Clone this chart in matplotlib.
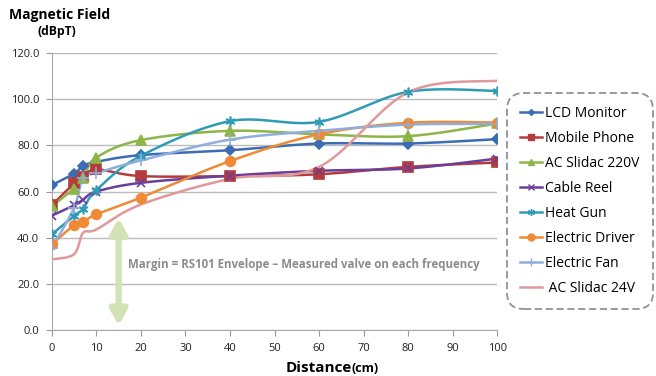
import numpy as np
import matplotlib.pyplot as plt
from matplotlib.lines import Line2D

plt.rcParams['font.family'] = ['Open Sans', 'DejaVu Sans']

# distance (cm) of each measurement
distance = [0, 5, 7, 10, 20, 40, 60, 80, 100]

lcd_monitor = [62.8, 67.8, 71.0, 72.9, 75.8, 77.9, 80.8, 80.8, 82.7]
mobile_phone = [54.1, 63.5, 66.1, 69.6, 66.7, 66.7, 67.5, 70.7, 72.6]
ac_slidac_220 = [53.7, 61.3, 65.7, 74.7, 82.3, 86.3, 84.8, 84.0, 89.5]
cable_reel = [49.6, 54.0, 56.5, 60.0, 63.8, 66.9, 69.0, 70.0, 74.3]
heat_gun = [41.5, 49.5, 52.6, 60.6, 75.5, 90.5, 90.2, 103.2, 103.6]
electric_driver = [37.1, 45.5, 46.9, 50.1, 57.4, 73.2, 84.8, 89.8, 89.9]
electric_fan = [35.4, 53.0, 66.0, 68.0, 73.5, 82.5, 86.3, 89.0, 89.3]
ac_slidac_24 = [30.6, 32.9, 42.1, 43.6, 54.4, 65.5, 70.7, 103.0, 108.0]

labels = ['LCD Monitor', 'Mobile Phone', 'AC Slidac 220V', 'Cable Reel',
          'Heat Gun', 'Electric Driver', 'Electric Fan', ' AC Slidac 24V']
series = [lcd_monitor, mobile_phone, ac_slidac_220, cable_reel,
          heat_gun, electric_driver, electric_fan, ac_slidac_24]
colors = ['#3C6DB4', '#B43C3C', '#8DB548', '#6A3E9A',
          '#2E9CB6', '#F08A35', '#8FAEDC', '#E0999B']
markers = ['D', 's', '^', 'x', (6, 2, 0), 'o', '+', None]
msizes = [5, 7, 7, 6, 7, 7, 8, 0]

xticks = np.arange(0, 101, 10)
yticks = np.arange(0, 121, 20)


def smooth(x, y, sx=4.45, sy=2.31, n=40):
    # catmull-rom curve through the points, computed in screen-like units
    p = np.column_stack([np.asarray(x, float) * sx, np.asarray(y, float) * sy])
    p = np.vstack([p[0], p, p[-1]])
    out = []
    for i in range(1, len(p) - 2):
        p0, p1, p2, p3 = p[i - 1], p[i], p[i + 1], p[i + 2]
        c1 = p1 + (p2 - p0) / 6
        c2 = p2 - (p3 - p1) / 6
        t = np.linspace(0, 1, n)[:, None]
        b = ((1 - t) ** 3) * p1 + 3 * ((1 - t) ** 2) * t * c1 \
            + 3 * (1 - t) * t ** 2 * c2 + t ** 3 * p2
        out.append(b if i == 1 else b[1:])
    out = np.vstack(out)
    return out[:, 0] / sx, out[:, 1] / sy


fig = plt.figure(figsize=(6.56, 3.76), dpi=100)
ax = fig.add_axes([0.079, 0.122, 0.679, 0.737])

for vals, c, m, ms in zip(series, colors, markers, msizes):
    sx_, sy_ = smooth(distance, vals)
    ax.plot(sx_, sy_, color=c, lw=1.8, zorder=3)
    if m is not None:
        ax.plot(distance, vals, ls='none', marker=m, ms=ms, color=c,
                mec=c, mew=1.2, zorder=4)

ax.set_xlim(0, 100)
ax.set_ylim(0, 120)
ax.set_xticks(xticks)
ax.set_yticks(yticks)
ax.set_yticklabels([f'{v:.1f}' for v in yticks])
ax.tick_params(axis='both', labelsize=8, colors='#222222', length=4,
               color='#999999')
ax.tick_params(axis='x', pad=5)
ax.tick_params(axis='y', pad=5)
ax.grid(axis='y', color='#BBBBBB', lw=1)
ax.set_axisbelow(True)
for s in ['top', 'right']:
    ax.spines[s].set_visible(False)
for s in ['left', 'bottom']:
    ax.spines[s].set_color('#AAAAAA')

# margin arrow and note
ax.annotate('', xy=(15, 2.0), xytext=(15, 48.5),
            arrowprops=dict(arrowstyle='<|-|>,head_length=0.9,head_width=0.5',
                            color='#D3E2B4', lw=4.5, shrinkA=0, shrinkB=0),
            zorder=2)
ax.text(17.0, 28.5, 'Margin = RS101 Envelope \u2013 Measured valve on each frequency',
        fontsize=8.3, fontweight='bold', color='#8C8C8C', va='center', ha='left')

fig.text(9 / 656, 1 - 15 / 376, 'Magnetic Field', fontsize=10,
         fontweight='bold', va='center', ha='left')
fig.text(37 / 656, 1 - 31 / 376, '(dBpT)', fontsize=8.7,
         fontweight='bold', va='center', ha='left')
fig.text(352 / 656, 1 - 372 / 376, 'Distance', fontsize=11,
         fontweight='bold', va='baseline', ha='right')
fig.text(352 / 656, 1 - 372 / 376, '(cm)', fontsize=9,
         fontweight='bold', va='baseline', ha='left')

handles = []
for c, m, ms in zip(colors, markers, msizes):
    handles.append(Line2D([], [], color=c, lw=1.8, marker=m,
                          ms=max(ms - 2, 0), mec=c))
leg = fig.legend(handles, labels, loc='upper left',
                 bbox_to_anchor=(507 / 656, 1 - 93 / 376), borderaxespad=0,
                 fontsize=10, labelspacing=0.72, handlelength=1.6,
                 handletextpad=0.2, borderpad=0.95, frameon=True)
frame = leg.get_frame()
frame.set_boxstyle('round,pad=0.0,rounding_size=1.2')
frame.set_linestyle((0, (4, 2)))
frame.set_edgecolor('#777777')
frame.set_linewidth(1.3)

fig.savefig('out.png', dpi=100)
